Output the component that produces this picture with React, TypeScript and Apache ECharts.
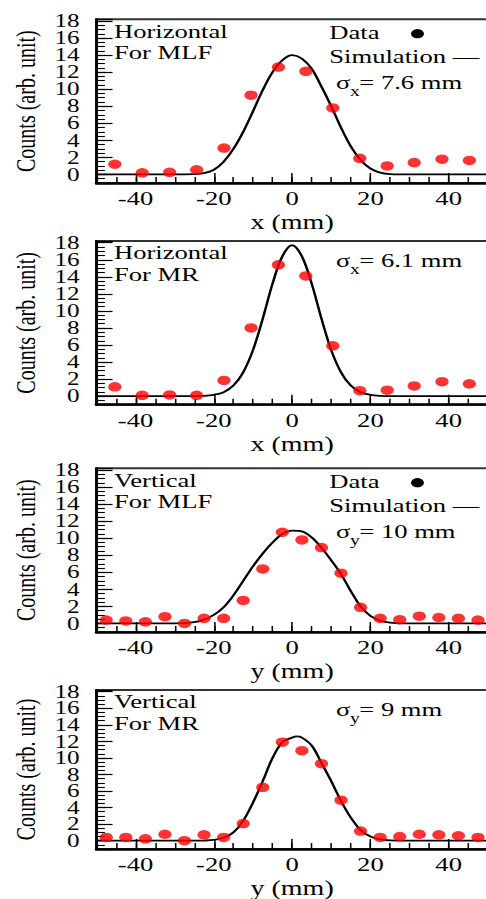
import React, { useEffect, useRef } from "react";
import * as echarts from "echarts";

// horizontal stretch of the original figure
const SX = 1.4;
const W = 360;
const H = 899;
const FONT = "Liberation Serif";

const xTickLabels = [-40, -20, 0, 20, 40];
const yTickLabels = [0, 2, 4, 6, 8, 10, 12, 14, 16, 18];

// measured points, horizontal profiles
const hPos = [-45.3, -38.3, -31.3, -24.4, -17.4, -10.5, -3.5, 3.5, 10.4, 17.3, 24.3, 31.2, 38.3, 45.3];
const hMLF = [1.2, 0.2, 0.25, 0.55, 3.1, 9.3, 12.6, 12.1, 7.8, 1.9, 1.0, 1.4, 1.8, 1.65];
const hMR = [1.1, 0.1, 0.15, 0.1, 1.85, 8.0, 15.4, 14.1, 5.9, 0.65, 0.7, 1.2, 1.7, 1.45];

// measured points, vertical profiles
const vPos = [-47.5, -42.5, -37.5, -32.5, -27.5, -22.5, -17.5, -12.5, -7.5, -2.5, 2.5, 7.5, 12.5, 17.5, 22.5, 27.5, 32.5, 37.5, 42.5, 47.5];
const vMLF = [0.4, 0.3, 0.2, 0.8, 0.0, 0.6, 0.6, 2.7, 6.4, 10.7, 9.8, 8.9, 5.9, 1.9, 0.6, 0.45, 0.85, 0.7, 0.6, 0.4];
const vMR = [0.4, 0.4, 0.23, 0.78, 0.0, 0.71, 0.4, 2.07, 6.45, 11.9, 10.87, 9.3, 4.9, 1.17, 0.4, 0.5, 0.78, 0.71, 0.6, 0.4];

// simulation curves
const curveX = [-50, -30, -25, -22.5, -20, -17.5, -15, -12.5, -10, -7.5, -5, -2.5, 0, 2.5, 5, 7.5, 10, 12.5, 15, 17.5, 20, 22.5, 25, 30, 50];
const simHMLF = [0, 0, 0.05, 0.15, 0.55, 1.5, 3.0, 5.0, 7.4, 9.9, 12.0, 13.4, 14.0, 13.6, 12.4, 10.3, 8.0, 5.5, 3.3, 1.7, 0.7, 0.22, 0.05, 0, 0];
const simHMR = [0, 0, 0.01, 0.04, 0.16, 0.47, 1.24, 2.8, 5.4, 9.1, 13.2, 16.4, 17.7, 16.4, 13.2, 9.1, 5.4, 2.8, 1.24, 0.47, 0.16, 0.04, 0.01, 0, 0];
const simVMLF = [0, 0, 0.15, 0.45, 1.0, 1.9, 3.3, 5.0, 6.7, 8.2, 9.5, 10.5, 10.9, 10.8, 10.1, 8.9, 7.4, 5.8, 3.8, 2.0, 0.9, 0.35, 0.1, 0, 0];
const curveXVMR = [-50, -30, -25, -22.5, -20, -17.5, -15, -12.5, -10, -7.5, -5, -2.5, 0, 1.2, 2.5, 5, 7.5, 10, 12.5, 15, 17.5, 20, 22.5, 25, 30, 50];
const simVMR = [0, 0, 0, 0.02, 0.1, 0.35, 1.0, 2.4, 4.6, 7.2, 10.0, 11.9, 12.45, 12.6, 12.45, 11.5, 9.4, 7.2, 4.8, 2.8, 1.3, 0.5, 0.15, 0.03, 0, 0];

const panels = [
  { top: 19.3, t1: "Horizontal", t2: "For MLF", axis: "x", sigma: "= 7.6 mm", legend: true, pos: hPos, vals: hMLF, cx: curveX, sim: simHMLF },
  { top: 241, t1: "Horizontal", t2: "For MR", axis: "x", sigma: "= 6.1 mm", legend: false, pos: hPos, vals: hMR, cx: curveX, sim: simHMR },
  { top: 468.3, t1: "Vertical", t2: "For MLF", axis: "y", sigma: "= 10 mm", legend: true, pos: vPos, vals: vMLF, cx: curveX, sim: simVMLF },
  { top: 690, t1: "Vertical", t2: "For MR", axis: "y", sigma: "= 9 mm", legend: false, pos: vPos, vals: vMR, cx: curveXVMR, sim: simVMR },
];

const GL = 64;
const GW = 284.4;
const GH = 163.7;

function txt(x: number, y: number, text: string, size = 19) {
  return {
    type: "text",
    x,
    y,
    z: 10,
    style: { text, fontSize: size, fontFamily: FONT, fill: "#000", align: "left", verticalAlign: "middle" },
  };
}

export default function App() {
  const ref = useRef<HTMLDivElement>(null);
  useEffect(() => {
    if (!ref.current) return;
    const chart = echarts.init(ref.current, undefined, { renderer: "svg" });
    const grid: any[] = [];
    const xAxis: any[] = [];
    const yAxis: any[] = [];
    const series: any[] = [];
    const graphic: any[] = [];
    panels.forEach((p, i) => {
      grid.push({ left: GL, top: p.top, width: GW, height: GH, show: true, borderColor: "#333", borderWidth: 2, backgroundColor: "transparent" });
      xAxis.push({
        type: "value", gridIndex: i, position: "bottom", min: -50, max: 50, splitNumber: 5,
        axisLine: { show: true, onZero: false, lineStyle: { color: "#000", width: 2.5 } },
        axisTick: { show: true, inside: true, length: 10, lineStyle: { color: "#000", width: 1.1 } },
        axisLabel: {
          formatter: (v: number) => (xTickLabels.includes(v) ? String(v) : ""),
          fontFamily: FONT, fontSize: 19, color: "#000", margin: 6,
        },
        splitLine: { show: false },
        name: p.axis + " (mm)", nameLocation: "middle", nameGap: 29,
        nameTextStyle: { fontFamily: FONT, fontSize: 20, color: "#000" },
      });
      xAxis.push({
        type: "value", gridIndex: i, position: "bottom", min: -50, max: 50, interval: 5,
        axisLine: { show: false, onZero: false },
        axisTick: { show: true, inside: true, length: 6, lineStyle: { color: "#000", width: 1.1 } },
        axisLabel: { show: false },
        splitLine: { show: false },
      });
      yAxis.push({
        type: "value", gridIndex: i, position: "left", min: -1, max: 18.2, splitNumber: 9,
        axisLine: { show: true, onZero: false, lineStyle: { color: "#000", width: 2 } },
        axisTick: { show: true, inside: true, length: 11.5, lineStyle: { color: "#000", width: 1.2 } },
        axisLabel: {
          formatter: (v: number) => (yTickLabels.includes(v) ? String(v) : ""),
          fontFamily: FONT, fontSize: 18, lineHeight: 16, color: "#000", margin: 12,
        },
        splitLine: { show: false },
        name: "Counts (arb. unit)", nameLocation: "middle", nameRotate: 90, nameGap: 36,
        nameTextStyle: { fontFamily: FONT, fontSize: 20, color: "#000" },
      });
      yAxis.push({
        type: "value", gridIndex: i, position: "left", min: -1, max: 18.2, interval: 0.5,
        axisLine: { show: false, onZero: false },
        axisTick: { show: true, inside: true, length: 6, lineStyle: { color: "#000", width: 1.1 } },
        axisLabel: { show: false },
        splitLine: { show: false },
      });
      series.push({
        type: "line", xAxisIndex: 2 * i, yAxisIndex: 2 * i,
        data: p.cx.map((x, j) => [x, p.sim[j]]),
        showSymbol: false, smooth: 0.35, z: 2,
        lineStyle: { color: "#000", width: 1.8 },
      });
      series.push({
        type: "scatter", xAxisIndex: 2 * i, yAxisIndex: 2 * i,
        data: p.pos.map((x, j) => [x, p.vals[j]]),
        symbol: "circle", symbolSize: 9.5, z: 3,
        itemStyle: { color: "#ff0000" },
      });
      const t = p.top;
      graphic.push(txt(81.4, t + 11.7, p.t1));
      graphic.push(txt(81.4, t + 33.3, p.t2));
      const sy = p.legend ? t + 62.7 : t + 19;
      if (p.legend) {
        graphic.push(txt(235.2, t + 13.4, "Data"));
        graphic.push({ type: "circle", x: 298.2, y: t + 14.4, z: 10, shape: { cx: 0, cy: 0, r: 4.6 }, style: { fill: "#000" } });
        graphic.push(txt(235.2, t + 37.1, "Simulation \u2014"));
      }
      graphic.push(txt(240, sy, "\u03c3"));
      graphic.push(txt(250, sy + 9.7, p.axis, 14));
      graphic.push(txt(256.6, sy, p.sigma));
    });
    chart.setOption({
      animation: false,
      backgroundColor: "#fff",
      textStyle: { fontFamily: FONT },
      grid, xAxis, yAxis, series, graphic,
    });
    return () => chart.dispose();
  }, []);
  return (
    <div style={{ position: "absolute", left: 0, top: 0, width: 486, height: H, overflow: "hidden", background: "#fff" }}>
      <div ref={ref} style={{ width: W, height: H, transform: `scaleX(${SX})`, transformOrigin: "0 0" }} />
    </div>
  );
}
